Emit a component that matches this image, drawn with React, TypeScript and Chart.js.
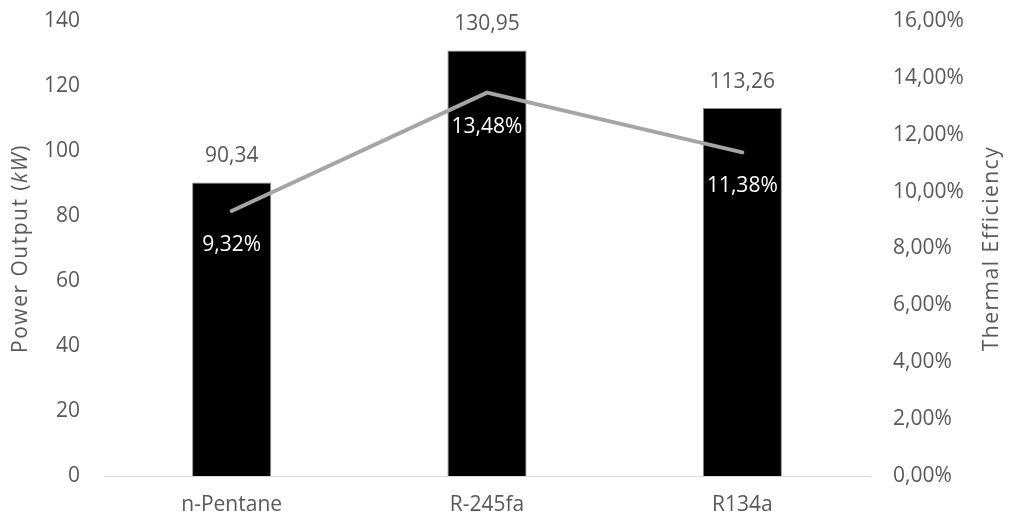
import React, { useEffect, useRef } from "react";
import { Chart, registerables } from "chart.js";

Chart.register(...registerables);

const categories = ["n-Pentane", "R-245fa", "R134a"];
const powerOutput = [90.34, 130.95, 113.26];
const thermalEfficiency = [9.32, 13.48, 11.38];
const leftTicks = [0, 20, 40, 60, 80, 100, 120, 140];
const rightTicks = [0, 2, 4, 6, 8, 10, 12, 14, 16];
const leftTitle: [string, boolean][] = [["Power Output (", false], ["kW", true], [")", false]];
const rightTitle = "Thermal Efficiency";

const FONT = "'Open Sans', sans-serif";
const GREY = "#595959";
const FS = 21;

const fmt = (v: number, d: number) => v.toFixed(d).replace(".", ",");

const labelPlugin = {
  id: "valueLabels",
  afterDatasetsDraw(chart: any) {
    const ctx = chart.ctx;
    ctx.save();
    ctx.font = `${FS}px ${FONT}`;
    ctx.textAlign = "center";
    ctx.textBaseline = "middle";
    const barMeta = chart.getDatasetMeta(0);
    barMeta.data.forEach((el: any, i: number) => {
      ctx.fillStyle = GREY;
      ctx.fillText(fmt(powerOutput[i], 2), el.x, el.y - 26);
    });
    const lineMeta = chart.getDatasetMeta(1);
    lineMeta.data.forEach((el: any, i: number) => {
      ctx.fillStyle = "#ffffff";
      ctx.fillText(fmt(thermalEfficiency[i], 2) + "%", el.x, el.y + 34);
    });
    ctx.restore();
  },
  afterDraw(chart: any) {
    const ctx = chart.ctx;
    const area = chart.chartArea;
    const cy = (area.top + area.bottom) / 2;
    ctx.save();
    ctx.fillStyle = GREY;
    ctx.textBaseline = "middle";
    ctx.textAlign = "left";
    (ctx as any).letterSpacing = "1.5px";
    const segs = leftTitle.map(([t, it]) => {
      ctx.font = `${it ? "italic " : ""}${FS}px ${FONT}`;
      return { t, it, w: ctx.measureText(t).width };
    });
    const total = segs.reduce((a, s) => a + s.w, 0);
    ctx.save();
    ctx.translate(21, cy);
    ctx.rotate(-Math.PI / 2);
    let x = -total / 2;
    segs.forEach((s) => {
      ctx.font = `${s.it ? "italic " : ""}${FS}px ${FONT}`;
      ctx.fillText(s.t, x, 0);
      x += s.w;
    });
    ctx.restore();
    ctx.save();
    ctx.font = `${FS}px ${FONT}`;
    ctx.textAlign = "center";
    ctx.translate(992, cy);
    ctx.rotate(-Math.PI / 2);
    ctx.fillText(rightTitle, 0, 0);
    ctx.restore();
    ctx.restore();
  },
};

export default function App() {
  const ref = useRef<HTMLCanvasElement>(null);
  useEffect(() => {
    if (!ref.current) return;
    const chart = new Chart(ref.current, {
      type: "bar",
      data: {
        labels: categories,
        datasets: [
          {
            type: "bar",
            label: "Power Output (kW)",
            data: powerOutput,
            backgroundColor: "#000000",
            borderColor: "#8c8c8c",
            borderWidth: 1,
            categoryPercentage: 1,
            barPercentage: 0.31,
            yAxisID: "y",
            order: 2,
          },
          {
            type: "line",
            label: "Thermal Efficiency",
            data: thermalEfficiency,
            borderColor: "#a5a5a5",
            borderWidth: 4,
            pointRadius: 0,
            tension: 0,
            borderCapStyle: "round",
            yAxisID: "y1",
            order: 1,
          } as any,
        ],
      },
      options: {
        animation: false,
        responsive: false,
        maintainAspectRatio: false,
        layout: { padding: { top: 21, left: 0, right: 0, bottom: 0 } },
        plugins: { legend: { display: false }, tooltip: { enabled: false } },
        scales: {
          x: {
            grid: { display: false, drawTicks: false },
            border: { display: true, color: "#d9d9d9", width: 1 },
            ticks: { color: GREY, font: { family: FONT, size: FS }, padding: 16 },
            afterFit: (s: any) => { s.height = 43; s.paddingLeft = 0; s.paddingRight = 0; },
          },
          y: {
            position: "left",
            min: 0,
            max: 140,
            afterBuildTicks: (s: any) => { s.ticks = leftTicks.map((v) => ({ value: v })); },
            grid: { display: false, drawTicks: false },
            border: { display: false },
            ticks: { color: GREY, font: { family: FONT, size: FS }, padding: 24 },
            afterFit: (s: any) => { s.width = 104; s.paddingTop = 0; s.paddingBottom = 0; },
          },
          y1: {
            position: "right",
            min: 0,
            max: 16,
            afterBuildTicks: (s: any) => { s.ticks = rightTicks.map((v) => ({ value: v })); },
            grid: { display: false, drawTicks: false },
            border: { display: false },
            ticks: {
              color: GREY,
              font: { family: FONT, size: FS },
              padding: 23,
              callback: (v: any) => fmt(Number(v), 2) + "%",
            },
            afterFit: (s: any) => { s.width = 140; s.paddingTop = 0; s.paddingBottom = 0; },
          },
        },
      },
      plugins: [labelPlugin],
    });
    return () => chart.destroy();
  }, []);
  return (
    <div style={{ position: "fixed", left: 0, top: 0, width: 1010, height: 519, background: "#fff" }}>
      <canvas ref={ref} width={1010} height={519} style={{ width: 1010, height: 519, display: "block" }} />
    </div>
  );
}
